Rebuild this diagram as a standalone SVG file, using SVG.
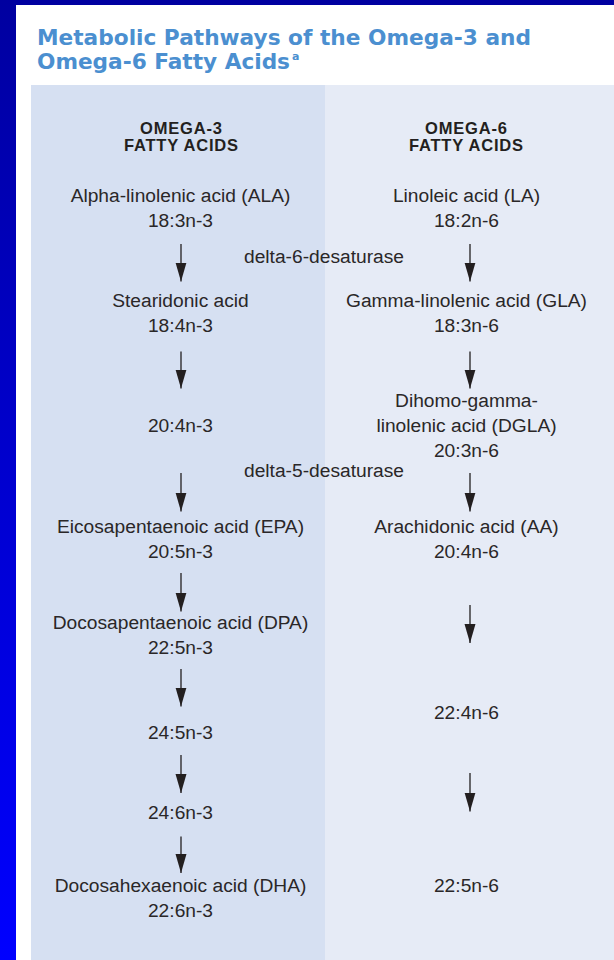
<svg xmlns="http://www.w3.org/2000/svg" width="614" height="960" viewBox="0 0 614 960">
<defs>
<linearGradient id="frame" x1="0" y1="0" x2="0" y2="1">
<stop offset="0" stop-color="#0000a0"/>
<stop offset="1" stop-color="#0000ff"/>
</linearGradient>
<marker id="head" markerUnits="userSpaceOnUse" viewBox="0 0 19 12" refX="19" refY="6" markerWidth="19" markerHeight="12" orient="auto">
<path d="M0,0.5 L19,6 L0,11.5 Z" fill="#231f20"/>
</marker>
<style>
.title{font-family:"DejaVu Sans","Liberation Sans",sans-serif;font-weight:bold;font-size:21.6px;fill:#4b8fd0}
.hdr{font-family:"Liberation Sans",Arial,sans-serif;font-weight:bold;font-size:16.5px;fill:#231f20;text-anchor:middle}
.t{font-family:"Liberation Sans",Arial,sans-serif;font-size:19.2px;fill:#2a2728;text-anchor:middle}
.arr{stroke:#231f20;stroke-width:1.3;fill:none;marker-end:url(#head)}
</style>
</defs>
<rect x="0" y="0" width="614" height="960" fill="url(#frame)"/>
<rect x="16" y="5" width="598" height="955" fill="#ffffff"/>
<rect x="31" y="85" width="294" height="875" fill="#d6e0f2"/>
<rect x="325" y="85" width="289" height="875" fill="#e6ebf6"/>
<g id="title">
<text class="title" x="37" y="45" textLength="494" lengthAdjust="spacingAndGlyphs">Metabolic Pathways of the Omega-3 and</text>
<text class="title" x="37" y="69" textLength="253" lengthAdjust="spacingAndGlyphs">Omega-6 Fatty Acids</text>
<text class="title" x="292" y="60" style="font-size:11px">a</text>
</g>
<g id="hdr-omega3">
<text class="hdr" x="181" y="133.5" textLength="82" lengthAdjust="spacing">OMEGA-3</text>
<text class="hdr" x="181" y="151" textLength="114" lengthAdjust="spacing">FATTY ACIDS</text>
</g>
<g id="hdr-omega6">
<text class="hdr" x="466" y="133.5" textLength="82" lengthAdjust="spacing">OMEGA-6</text>
<text class="hdr" x="466" y="151" textLength="114" lengthAdjust="spacing">FATTY ACIDS</text>
</g>
<g id="ala"><text class="t" x="180.5" y="201.7">Alpha-linolenic acid (ALA)</text><text class="t" x="180.5" y="226.5">18:3n-3</text></g>
<g id="sda"><text class="t" x="180.5" y="306.5">Stearidonic acid</text><text class="t" x="180.5" y="331.5">18:4n-3</text></g>
<g id="n3-20-4"><text class="t" x="180.5" y="432">20:4n-3</text></g>
<g id="epa"><text class="t" x="180.5" y="533">Eicosapentaenoic acid (EPA)</text><text class="t" x="180.5" y="558">20:5n-3</text></g>
<g id="dpa"><text class="t" x="180.5" y="628.5">Docosapentaenoic acid (DPA)</text><text class="t" x="180.5" y="653.5">22:5n-3</text></g>
<g id="n3-24-5"><text class="t" x="180.5" y="738.5">24:5n-3</text></g>
<g id="n3-24-6"><text class="t" x="180.5" y="818.5">24:6n-3</text></g>
<g id="dha"><text class="t" x="180.5" y="891.7">Docosahexaenoic acid (DHA)</text><text class="t" x="180.5" y="916.7">22:6n-3</text></g>
<g id="la"><text class="t" x="466.5" y="201.7">Linoleic acid (LA)</text><text class="t" x="466.5" y="226.5">18:2n-6</text></g>
<g id="gla"><text class="t" x="466.5" y="306.5">Gamma-linolenic acid (GLA)</text><text class="t" x="466.5" y="331.5">18:3n-6</text></g>
<g id="dgla"><text class="t" x="466.5" y="406.7">Dihomo-gamma-</text><text class="t" x="466.5" y="431.7">linolenic acid (DGLA)</text><text class="t" x="466.5" y="456.7">20:3n-6</text></g>
<g id="aa"><text class="t" x="466.5" y="533">Arachidonic acid (AA)</text><text class="t" x="466.5" y="558">20:4n-6</text></g>
<g id="n6-22-4"><text class="t" x="466.5" y="718.5">22:4n-6</text></g>
<g id="n6-22-5"><text class="t" x="466.5" y="891.7">22:5n-6</text></g>
<g id="d6d"><text class="t" x="324" y="263.3">delta-6-desaturase</text></g>
<g id="d5d"><text class="t" x="324" y="476.7">delta-5-desaturase</text></g>
<g id="connectors">
<line class="arr" x1="181" y1="244" x2="181" y2="281.5"/>
<line class="arr" x1="181" y1="351.5" x2="181" y2="388.5"/>
<line class="arr" x1="181" y1="473" x2="181" y2="511.5"/>
<line class="arr" x1="181" y1="573" x2="181" y2="611.5"/>
<line class="arr" x1="181" y1="669" x2="181" y2="706.5"/>
<line class="arr" x1="181" y1="755" x2="181" y2="793"/>
<line class="arr" x1="181" y1="836.5" x2="181" y2="873"/>
<line class="arr" x1="470" y1="244" x2="470" y2="281.5"/>
<line class="arr" x1="470" y1="351.5" x2="470" y2="388.5"/>
<line class="arr" x1="470" y1="473" x2="470" y2="511.5"/>
<line class="arr" x1="470" y1="605" x2="470" y2="643"/>
<line class="arr" x1="470" y1="773" x2="470" y2="811.5"/>
</g>
</svg>
